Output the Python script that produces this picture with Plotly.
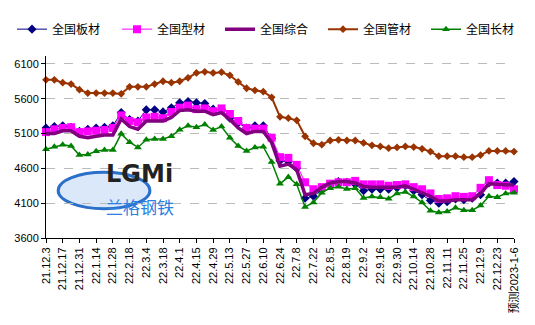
import plotly.graph_objects as go

categories = [
    "21.12.3", "21.12.10", "21.12.17", "21.12.24", "21.12.31", "22.1.7", "22.1.14", "22.1.21",
    "22.1.28", "22.2.11", "22.2.18", "22.2.25", "22.3.4", "22.3.11", "22.3.18", "22.3.25",
    "22.4.1", "22.4.8", "22.4.15", "22.4.22", "22.4.29", "22.5.6", "22.5.13", "22.5.20",
    "22.5.27", "22.6.3", "22.6.10", "22.6.17", "22.6.24", "22.7.1", "22.7.8", "22.7.15",
    "22.7.22", "22.7.29", "22.8.5", "22.8.12", "22.8.19", "22.8.26", "22.9.2", "22.9.9",
    "22.9.16", "22.9.23", "22.9.30", "22.10.7", "22.10.14", "22.10.21", "22.10.28", "22.11.4",
    "22.11.11", "22.11.18", "22.11.25", "22.12.2", "22.12.9", "22.12.16", "22.12.23", "22.12.30",
    "预测2023-1-6",
]
tick_labels = categories[::2]

plate = [5180, 5200, 5210, 5190, 5130, 5160, 5180, 5190, 5210, 5400, 5300, 5280, 5440, 5440,
         5410, 5470, 5540, 5560, 5540, 5530, 5450, 5440, 5320, 5250, 5180, 5210, 5210, 5030,
         4710, 4700, 4600, 4170, 4200, 4290, 4370, 4410, 4400, 4370, 4280, 4300, 4300, 4300,
         4320, 4350, 4280, 4220, 4140, 4100, 4120, 4160, 4150, 4170, 4220, 4390, 4390, 4390, 4410]
section = [5120, 5160, 5180, 5190, 5120, 5130, 5140, 5150, 5180, 5360, 5280, 5260, 5330, 5340,
           5320, 5410, 5470, 5500, 5450, 5460, 5420, 5460, 5380, 5280, 5180, 5170, 5170, 5040,
           4760, 4750, 4650, 4400, 4300, 4330, 4380, 4400, 4400, 4420, 4370, 4370, 4370, 4350,
           4360, 4370, 4330, 4300, 4240, 4160, 4170, 4200, 4190, 4200, 4320, 4430, 4360, 4350, 4300]
composite = [5100, 5100, 5140, 5140, 5060, 5040, 5060, 5080, 5080, 5310, 5200, 5160, 5280, 5280,
             5280, 5330, 5430, 5440, 5420, 5420, 5370, 5400, 5300, 5180, 5100, 5130, 5130, 4970,
             4630, 4660, 4580, 4220, 4240, 4330, 4390, 4410, 4410, 4390, 4340, 4330, 4330, 4330,
             4330, 4350, 4300, 4260, 4200, 4130, 4130, 4150, 4150, 4150, 4240, 4380, 4370, 4370, 4360]
pipe = [5870, 5870, 5830, 5810, 5730, 5680, 5680, 5680, 5680, 5670, 5770, 5770, 5770, 5810,
        5850, 5830, 5850, 5900, 5970, 5985, 5970, 5980, 5935, 5840, 5750, 5720, 5700, 5620,
        5340, 5320, 5290, 5060, 4960, 4940, 5000, 5010, 5000, 5000, 4965, 4930, 4915, 4890,
        4900, 4915, 4905, 4880, 4840, 4775, 4775, 4775, 4760, 4760, 4790, 4850, 4850, 4850, 4840]
long_prod = [4875, 4910, 4940, 4920, 4790, 4800, 4845, 4865, 4865, 5095, 4975, 4900, 5010, 5020,
             5020, 5060, 5155, 5210, 5190, 5230, 5150, 5200, 5040, 4920, 4850, 4900, 4910, 4690,
             4380, 4475, 4370, 4045, 4110, 4250, 4315, 4335, 4305, 4315, 4175, 4195, 4185, 4165,
             4240, 4260, 4195, 4110, 3990, 3965, 3980, 4035, 4000, 4000, 4065, 4200, 4185, 4240, 4250]
y_ticks = [3600, 4100, 4600, 5100, 5600, 6100]

series = [
    ("全国板材", plate, "#000080", 1, dict(symbol="diamond", size=7)),
    ("全国型材", section, "#FF00FF", 1, dict(symbol="square", size=8)),
    ("全国综合", composite, "#800080", 3.5, None),
    ("全国管材", pipe, "#993300", 2, dict(symbol="diamond", size=6)),
    ("全国长材", long_prod, "#008000", 1.5, dict(symbol="triangle-up", size=7)),
]
legend_left_px = [12, 117, 220, 323, 426]

FONT = "Liberation Sans, Arial, Noto Sans CJK SC, sans-serif"
W, H = 535, 325
fig = go.Figure()
legend_layouts = {}
for k, (name, vals, color, lw, mk) in enumerate(series):
    lg = "legend" if k == 0 else f"legend{k + 1}"
    common = dict(x=categories, y=vals, name=name, legend=lg, cliponaxis=False,
                  line=dict(color=color, width=lw))
    if mk is None:
        fig.add_trace(go.Scatter(mode="lines", **common))
    else:
        fig.add_trace(go.Scatter(mode="lines+markers",
                                 marker=dict(color=color, line=dict(width=0), **mk), **common))
    legend_layouts[lg] = dict(orientation="h", xref="container", yref="container",
                              x=legend_left_px[k] / W, y=0.955, xanchor="left", yanchor="top",
                              font=dict(size=12, family=FONT), itemwidth=30,
                              bgcolor="rgba(0,0,0,0)")

# logo watermark
fig.add_shape(type="circle", xref="paper", yref="paper", x0=0.026, x1=0.222, y0=0.16, y1=0.36,
              line=dict(color="#2A6FC9", width=3), fillcolor="rgba(150,190,240,0.35)", layer="below")
fig.add_annotation(xref="paper", yref="paper", x=0.124, y=0.262, text="<b>LGMi</b>", showarrow=False,
                   font=dict(family="DejaVu Sans", size=24, color="#222222"))
fig.add_annotation(xref="paper", yref="paper", x=0.124, y=0.092, text="兰格钢铁", showarrow=False,
                   font=dict(family="Noto Sans CJK SC", size=17, color="#2A7FE0"))

fig.update_layout(
    width=W, height=H,
    margin=dict(l=46, r=21, t=40, b=86),
    paper_bgcolor="white", plot_bgcolor="white",
    font=dict(family=FONT, size=11, color="black"),
    showlegend=True,
    xaxis=dict(type="category", range=[0, 56], tickmode="array", tickvals=tick_labels,
               ticktext=tick_labels, tickangle=-90, showgrid=False, showline=True,
               linecolor="black", linewidth=1, ticks="outside", ticklen=4, tickcolor="black",
               tickfont=dict(size=11), zeroline=False),
    yaxis=dict(range=[3600, 6218], tickmode="array", tickvals=y_ticks, showgrid=True,
               gridcolor="#BBBBBB", griddash="dash", gridwidth=1, showline=True,
               linecolor="black", linewidth=1, ticks="outside", ticklen=4, tickcolor="black",
               tickfont=dict(size=11), zeroline=False),
    **legend_layouts,
)
fig.write_html("out.html")
